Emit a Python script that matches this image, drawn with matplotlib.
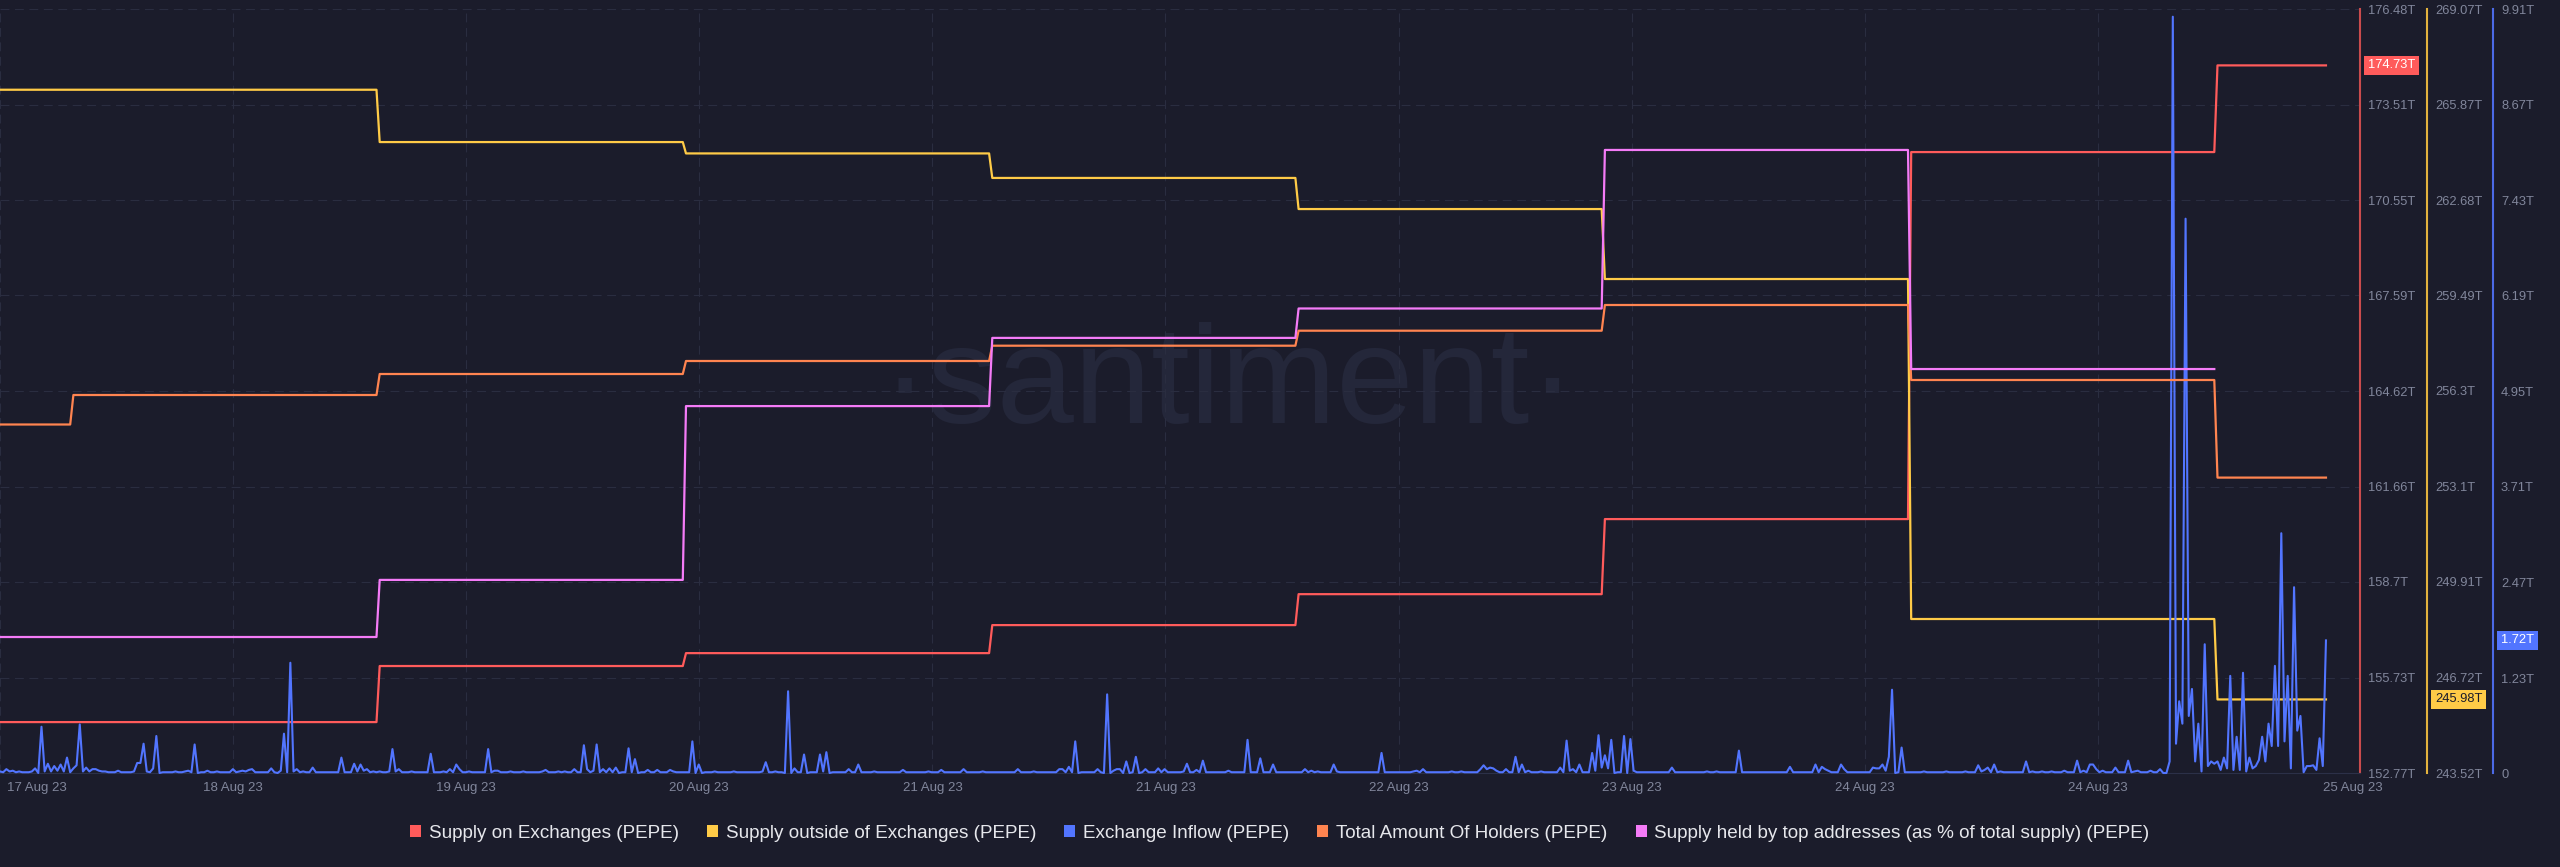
import matplotlib
matplotlib.use("Agg")
import matplotlib.pyplot as plt
import matplotlib.transforms as mtransforms
from matplotlib.patches import Patch
import numpy as np

plt.rcParams["font.family"] = ["Liberation Sans", "DejaVu Sans"]

# Daily metrics (values per daily period; the first period is the part of
# the day shown before the first daily update)
supply_on_exchanges = [154.35, 154.35, 156.09, 156.49, 157.36, 158.32, 160.65, 172.04, 174.73]
supply_outside_exchanges = [266.37, 266.37, 264.62, 264.24, 263.42, 262.38, 260.04, 248.67, 245.98]
total_holders = [141485, 141780, 141990, 142120, 142273, 142423, 142680, 141930, 140954]
top_holders_pct = [47.12, 47.12, 50.11, 59.21, 62.78, 64.32, 72.62, 61.15, np.nan]

# Exchange inflow, 15 minute samples (trillions)
exchange_inflow = [
    0.02, 0.01, 0.05, 0.02, 0.03, 0.01, 0.02, 0.01, 0.01, 0.01, 0.02, 0.06, 0.00, 0.60, 0.02, 0.12, 0.02, 0.09, 0.03, 0.11, 0.02, 0.20, 0.01, 0.06,
    0.10, 0.63, 0.02, 0.07, 0.02, 0.05, 0.05, 0.03, 0.02, 0.02, 0.01, 0.01, 0.01, 0.03, 0.01, 0.01, 0.01, 0.01, 0.02, 0.13, 0.13, 0.38, 0.02, 0.01,
    0.06, 0.48, 0.00, 0.01, 0.01, 0.01, 0.01, 0.02, 0.01, 0.01, 0.02, 0.03, 0.01, 0.37, 0.00, 0.01, 0.01, 0.03, 0.01, 0.01, 0.02, 0.01, 0.01, 0.01,
    0.01, 0.05, 0.01, 0.02, 0.03, 0.02, 0.04, 0.05, 0.01, 0.01, 0.01, 0.01, 0.01, 0.06, 0.01, 0.00, 0.03, 0.51, 0.01, 1.43, 0.02, 0.05, 0.01, 0.02,
    0.01, 0.01, 0.07, 0.01, 0.01, 0.01, 0.01, 0.01, 0.01, 0.01, 0.01, 0.20, 0.01, 0.01, 0.01, 0.12, 0.02, 0.11, 0.03, 0.05, 0.01, 0.02, 0.01, 0.02,
    0.01, 0.01, 0.02, 0.31, 0.02, 0.05, 0.01, 0.01, 0.01, 0.02, 0.01, 0.01, 0.01, 0.01, 0.01, 0.25, 0.01, 0.01, 0.01, 0.02, 0.01, 0.05, 0.01, 0.11,
    0.05, 0.01, 0.01, 0.02, 0.01, 0.01, 0.01, 0.01, 0.01, 0.31, 0.01, 0.03, 0.03, 0.01, 0.01, 0.01, 0.02, 0.01, 0.01, 0.01, 0.02, 0.01, 0.01, 0.01,
    0.01, 0.01, 0.02, 0.04, 0.01, 0.01, 0.01, 0.02, 0.01, 0.02, 0.01, 0.01, 0.05, 0.01, 0.01, 0.36, 0.05, 0.01, 0.03, 0.37, 0.01, 0.05, 0.01, 0.06,
    0.01, 0.07, 0.00, 0.01, 0.01, 0.32, 0.01, 0.18, 0.00, 0.01, 0.01, 0.04, 0.01, 0.01, 0.04, 0.01, 0.01, 0.01, 0.04, 0.02, 0.01, 0.01, 0.01, 0.01,
    0.01, 0.41, 0.00, 0.11, 0.00, 0.01, 0.01, 0.01, 0.02, 0.01, 0.01, 0.01, 0.01, 0.01, 0.02, 0.01, 0.01, 0.01, 0.01, 0.01, 0.01, 0.01, 0.01, 0.02,
    0.14, 0.01, 0.01, 0.02, 0.01, 0.01, 0.00, 1.06, 0.00, 0.06, 0.01, 0.01, 0.24, 0.00, 0.01, 0.01, 0.01, 0.24, 0.02, 0.27, 0.00, 0.01, 0.01, 0.01,
    0.01, 0.01, 0.05, 0.01, 0.01, 0.11, 0.01, 0.01, 0.01, 0.01, 0.02, 0.01, 0.01, 0.01, 0.01, 0.01, 0.01, 0.01, 0.01, 0.04, 0.01, 0.01, 0.01, 0.01,
    0.01, 0.01, 0.01, 0.02, 0.01, 0.01, 0.01, 0.04, 0.01, 0.01, 0.01, 0.01, 0.01, 0.01, 0.05, 0.01, 0.01, 0.01, 0.01, 0.01, 0.02, 0.01, 0.01, 0.01,
    0.01, 0.01, 0.01, 0.01, 0.01, 0.01, 0.01, 0.05, 0.01, 0.01, 0.01, 0.01, 0.02, 0.01, 0.01, 0.01, 0.01, 0.01, 0.01, 0.01, 0.05, 0.05, 0.01, 0.08,
    0.01, 0.41, 0.00, 0.01, 0.01, 0.01, 0.01, 0.01, 0.05, 0.01, 0.00, 1.02, 0.00, 0.03, 0.05, 0.05, 0.00, 0.15, 0.00, 0.01, 0.21, 0.00, 0.01, 0.05,
    0.01, 0.01, 0.01, 0.06, 0.01, 0.05, 0.01, 0.01, 0.01, 0.01, 0.01, 0.02, 0.12, 0.01, 0.01, 0.04, 0.01, 0.16, 0.01, 0.01, 0.01, 0.01, 0.01, 0.01,
    0.01, 0.03, 0.01, 0.01, 0.01, 0.01, 0.01, 0.43, 0.01, 0.01, 0.01, 0.19, 0.01, 0.01, 0.01, 0.11, 0.01, 0.01, 0.01, 0.01, 0.01, 0.01, 0.01, 0.01,
    0.01, 0.05, 0.01, 0.03, 0.01, 0.02, 0.01, 0.01, 0.01, 0.01, 0.11, 0.02, 0.01, 0.01, 0.01, 0.01, 0.01, 0.01, 0.01, 0.01, 0.01, 0.01, 0.01, 0.01,
    0.01, 0.26, 0.01, 0.01, 0.01, 0.01, 0.01, 0.01, 0.01, 0.01, 0.01, 0.02, 0.03, 0.01, 0.05, 0.01, 0.01, 0.01, 0.01, 0.01, 0.01, 0.01, 0.01, 0.02,
    0.01, 0.01, 0.02, 0.01, 0.01, 0.01, 0.01, 0.01, 0.05, 0.10, 0.05, 0.07, 0.06, 0.03, 0.01, 0.01, 0.05, 0.01, 0.01, 0.21, 0.01, 0.11, 0.01, 0.03,
    0.01, 0.01, 0.01, 0.02, 0.01, 0.01, 0.01, 0.01, 0.01, 0.07, 0.01, 0.42, 0.03, 0.05, 0.01, 0.11, 0.01, 0.01, 0.01, 0.26, 0.03, 0.49, 0.07, 0.23,
    0.06, 0.43, 0.00, 0.01, 0.01, 0.48, 0.00, 0.44, 0.03, 0.01, 0.01, 0.01, 0.01, 0.01, 0.01, 0.01, 0.01, 0.01, 0.01, 0.01, 0.07, 0.01, 0.01, 0.01,
    0.01, 0.01, 0.01, 0.01, 0.01, 0.01, 0.01, 0.02, 0.01, 0.01, 0.02, 0.01, 0.01, 0.01, 0.01, 0.01, 0.01, 0.29, 0.01, 0.01, 0.01, 0.01, 0.01, 0.01,
    0.01, 0.01, 0.01, 0.01, 0.01, 0.01, 0.01, 0.01, 0.01, 0.08, 0.01, 0.01, 0.01, 0.01, 0.01, 0.01, 0.01, 0.11, 0.01, 0.08, 0.05, 0.03, 0.01, 0.01,
    0.01, 0.11, 0.05, 0.01, 0.01, 0.01, 0.01, 0.01, 0.01, 0.01, 0.01, 0.07, 0.06, 0.06, 0.11, 0.03, 0.21, 1.08, 0.00, 0.01, 0.33, 0.01, 0.01, 0.01,
    0.01, 0.01, 0.01, 0.02, 0.01, 0.01, 0.01, 0.01, 0.01, 0.01, 0.02, 0.01, 0.01, 0.01, 0.01, 0.01, 0.02, 0.01, 0.01, 0.01, 0.10, 0.02, 0.04, 0.07,
    0.01, 0.11, 0.01, 0.02, 0.01, 0.01, 0.01, 0.01, 0.01, 0.01, 0.01, 0.15, 0.01, 0.02, 0.01, 0.01, 0.02, 0.01, 0.01, 0.02, 0.01, 0.01, 0.01, 0.03,
    0.01, 0.01, 0.01, 0.16, 0.01, 0.03, 0.01, 0.11, 0.11, 0.05, 0.01, 0.03, 0.01, 0.01, 0.01, 0.07, 0.01, 0.01, 0.01, 0.16, 0.01, 0.02, 0.03, 0.01,
    0.01, 0.01, 0.03, 0.01, 0.01, 0.05, 0.00, 0.00, 0.15, 9.81, 0.38, 0.93, 0.64, 7.19, 0.74, 1.09, 0.15, 0.64, 0.02, 1.67, 0.09, 0.15, 0.12, 0.15,
    0.04, 0.20, 0.06, 1.26, 0.04, 0.47, 0.04, 1.30, 0.02, 0.20, 0.06, 0.09, 0.17, 0.47, 0.15, 0.64, 0.35, 1.39, 0.35, 3.11, 0.41, 1.26, 0.06, 2.41,
    0.55, 0.74, 0.01, 0.09, 0.09, 0.10, 0.04, 0.45, 0.09, 1.72,
]

x_labels = ["17 Aug 23", "18 Aug 23", "19 Aug 23", "20 Aug 23", "21 Aug 23", "21 Aug 23",
            "22 Aug 23", "23 Aug 23", "24 Aug 23", "24 Aug 23", "25 Aug 23"]
red_ticks = [152.77, 155.73, 158.7, 161.66, 164.62, 167.59, 170.55, 173.51, 176.48]
yellow_ticks = [243.52, 246.72, 249.91, 253.1, 256.3, 259.49, 262.68, 265.87, 269.07]
blue_ticks = [0, 1.23, 2.47, 3.71, 4.95, 6.19, 7.43, 8.67, 9.91]

RED = "#ff5b5b"
YELLOW = "#ffcb47"
BLUE = "#5275ff"
ORANGE = "#ff8450"
PINK = "#f47bf7"
BG = "#1b1c2b"
GRID = "#2a2d40"
TICK = "#81869b"

# time axis: 15 min samples, x in days
n = len(exchange_inflow)
t = np.arange(n) / 96
counts = [23] + [96] * 7 + [n - 23 - 96 * 7]


def expand(vals):
    return np.repeat(np.array(vals, dtype=float), counts)


fig = plt.figure(figsize=(25.6, 8.67), dpi=100, facecolor=BG)
ax = fig.add_axes([0, 94 / 867, 2360 / 2560, 764 / 867])
ax.set_facecolor(BG)
ax_y = ax.twinx()
ax_b = ax.twinx()
ax_o = ax.twinx()
ax_p = ax.twinx()

ax.set_xlim(0, 2360 / 306.3)

# watermark
ax.text(1229 / 2560, 1 - 423 / 867, "·santiment·", transform=fig.transFigure,
        ha="center", va="baseline", fontsize=100, color="#24273a", zorder=0)

# grid
step = 0.761
for k in range(10):
    ax.axvline(k * step, color=GRID, lw=0.8, ls=(0, (8, 5)), zorder=0.5)
ax.set_yticks(red_ticks)
ax.grid(axis="y", color=GRID, lw=0.8, ls=(0, (8, 5)), zorder=0.5)

# lines
ax.plot(t, expand(supply_on_exchanges), color=RED, lw=1.6)
ax_y.plot(t, expand(supply_outside_exchanges), color=YELLOW, lw=1.6)
ax_b.plot(t, exchange_inflow, color=BLUE, lw=1.5, clip_on=False)
ax_o.plot(t, expand(total_holders), color=ORANGE, lw=1.6)
ax_p.plot(t, expand(top_holders_pct), color=PINK, lw=1.6)

ax.set_ylim(red_ticks[0], red_ticks[-1])
ax_y.set_ylim(yellow_ticks[0], yellow_ticks[-1])
ax_b.set_ylim(blue_ticks[0], blue_ticks[-1])
ax_o.set_ylim(138000, 145640)
ax_p.set_ylim(40, 80)

# spines and ticks
for a in (ax, ax_y, ax_b, ax_o, ax_p):
    for s in ("left", "top"):
        a.spines[s].set_visible(False)
for a in (ax_y, ax_b, ax_o, ax_p):
    a.spines["bottom"].set_visible(False)
ax.spines["bottom"].set_color("#2c3048")
for a in (ax_o, ax_p):
    a.spines["right"].set_visible(False)
    a.set_yticks([])

ax.spines["right"].set_color("#c94b4d")
ax.spines["right"].set_linewidth(1.5)
ax_y.spines["right"].set_position(("axes", 1 + 67 / 2360))
ax_y.spines["right"].set_color("#e3b23e")
ax_y.spines["right"].set_linewidth(1.5)
ax_b.spines["right"].set_position(("axes", 1 + 133 / 2360))
ax_b.spines["right"].set_color("#4c6ae6")
ax_b.spines["right"].set_linewidth(1.5)

ax.yaxis.tick_right()
ax.set_yticklabels([f"{v:g}T" for v in red_ticks])
ax_y.set_yticks(yellow_ticks)
ax_y.set_yticklabels([f"{v:g}T" for v in yellow_ticks])
ax_b.set_yticks(blue_ticks)
ax_b.set_yticklabels([f"{v:g}T" if v else "0" for v in blue_ticks])
for a in (ax, ax_y, ax_b):
    a.tick_params(axis="y", length=0, pad=5.8, labelsize=9.3, labelcolor=TICK)

ax.set_xticks([0.12] + [k * step for k in range(1, 10)] + [7.682])
ax.set_xticklabels(x_labels)
ax.tick_params(axis="x", length=0, pad=6.5, labelsize=9.5, labelcolor=TICK)

# last value badges
badges = [
    (ax, supply_on_exchanges[-1], 8, RED, "white"),
    (ax_y, supply_outside_exchanges[-1], 75, YELLOW, "#1b1c2b"),
    (ax_b, exchange_inflow[-1], 141, BLUE, "white"),
]
for a, val, off, fc, tc in badges:
    tr = mtransforms.blended_transform_factory(ax.transAxes, a.transData)
    a.text(1 + off / 2360, val, f"{val:g}T", transform=tr, ha="left", va="center",
           fontsize=9.3, color=tc, clip_on=False,
           bbox=dict(boxstyle="square,pad=0.3", fc=fc, ec="none"))

# legend
names = ["Supply on Exchanges (PEPE)", "Supply outside of Exchanges (PEPE)",
         "Exchange Inflow (PEPE)", "Total Amount Of Holders (PEPE)",
         "Supply held by top addresses (as % of total supply) (PEPE)"]
colors = [RED, YELLOW, BLUE, ORANGE, PINK]
handles = [Patch(facecolor=c, edgecolor="none", label=nm) for c, nm in zip(colors, names)]
fig.legend(handles=handles, loc="center", bbox_to_anchor=(0.5, 1 - 833 / 867), ncol=5,
           frameon=False, fontsize=13.6, labelcolor="#e6e7ec", handlelength=0.58,
           handleheight=0.65, handletextpad=0.42, columnspacing=1.48, borderpad=0)

fig.savefig("out.png", dpi=100, facecolor=BG)
